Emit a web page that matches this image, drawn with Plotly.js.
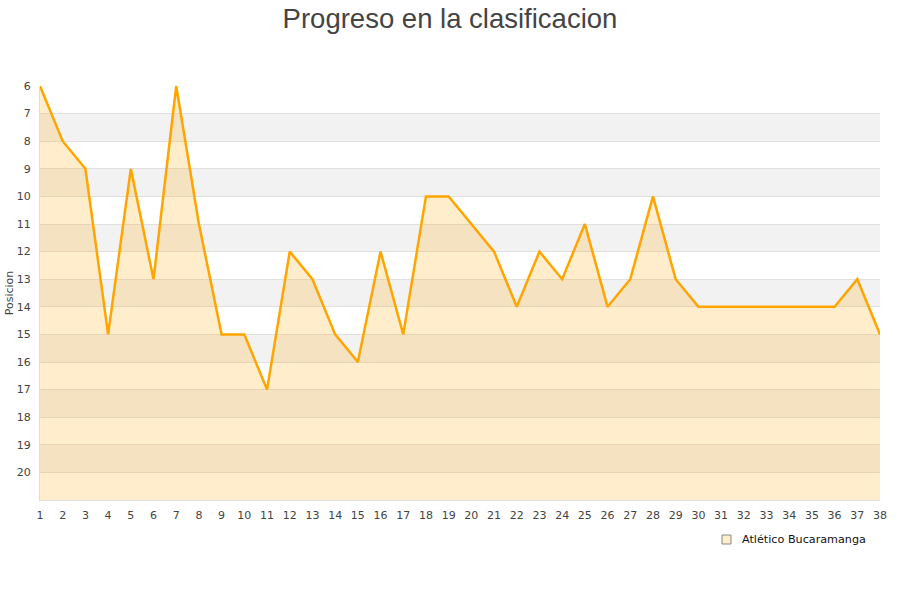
<!DOCTYPE html>
<html>
<head>
<meta charset="utf-8">
<script src="https://cdn.plot.ly/plotly-3.0.1.min.js"></script>
<style>html,body{margin:0;padding:0;background:#fff;}#chart{width:900px;height:600px;}</style>
</head>
<body>
<div id="chart"></div>
<script>
const jornadas = [1,2,3,4,5,6,7,8,9,10,11,12,13,14,15,16,17,18,19,20,21,22,23,24,25,26,27,28,29,30,31,32,33,34,35,36,37,38];
const posiciones = [6,8,9,15,9,13,6,11,15,15,17,12,13,15,16,12,15,10,10,11,12,14,12,13,11,14,13,10,13,14,14,14,14,14,14,14,13,15];
const equipo = 'Atlético Bucaramanga';
const yTicks = [6,7,8,9,10,11,12,13,14,15,16,17,18,19,20];
const fondo = 21;
const bandas = [7,9,11,13,15,17,19];

const shapes = bandas.map(b => ({
  type:'rect', xref:'paper', yref:'y', x0:0, x1:1, y0:b, y1:b+1,
  fillcolor:'#f2f2f2', line:{width:0}, layer:'below'
}));
// legend symbol
shapes.push({type:'rect', xref:'paper', yref:'paper', x0:(722-40)/840, x1:(731-40)/840, y0:-(535-500)/414, y1:-(544-500)/414,
  fillcolor:'#ffeecc', line:{color:'#888', width:1}});

const traces = [
  {x: jornadas, y: jornadas.map(() => fondo), mode:'lines', line:{width:0, color:'rgba(0,0,0,0)'}, showlegend:false, hoverinfo:'skip'},
  {x: jornadas, y: posiciones, mode:'lines', fill:'tonexty', fillcolor:'rgba(255,165,0,0.2)',
   line:{color:'#FFA500', width:2.5}, showlegend:false, name:equipo}
];

const layout = {
  width:900, height:600,
  paper_bgcolor:'#fff', plot_bgcolor:'#fff',
  margin:{l:40, r:20, t:86, b:100},
  title:{text:'Progreso en la clasificacion', font:{family:'Liberation Sans, Arial, sans-serif', size:27.5, color:'#444'}, x:0.5, xanchor:'center', y:0.986, yanchor:'top'},
  font:{family:'DejaVu Sans, sans-serif', size:11, color:'#444'},
  xaxis:{range:[1,38], tickvals:jornadas, showgrid:false, zeroline:false, showline:true, linecolor:'#ddd', linewidth:1, ticks:'', fixedrange:true, ticklabelstandoff:5, tickfont:{size:11, color:'#444'}},
  yaxis:{range:[fondo,6], tickvals:yTicks, showgrid:true, gridcolor:'#e0e0e0', gridwidth:1, zeroline:false, showline:true, linecolor:'#ddd', linewidth:1, ticks:'', ticklabelstandoff:6,
    title:{text:'Posicion', font:{size:11, color:'#444'}, standoff:0}, tickfont:{size:11, color:'#444'}},
  shapes: shapes,
  showlegend:false,
  annotations:[{xref:'paper', yref:'paper', x:(740-40)/840, y:-(539-500)/414, xanchor:'left', yanchor:'middle', showarrow:false,
    text:equipo, font:{size:11.2, color:'#111'}}]
};

Plotly.newPlot('chart', traces, layout, {displayModeBar:false, staticPlot:true});
</script>
</body>
</html>
